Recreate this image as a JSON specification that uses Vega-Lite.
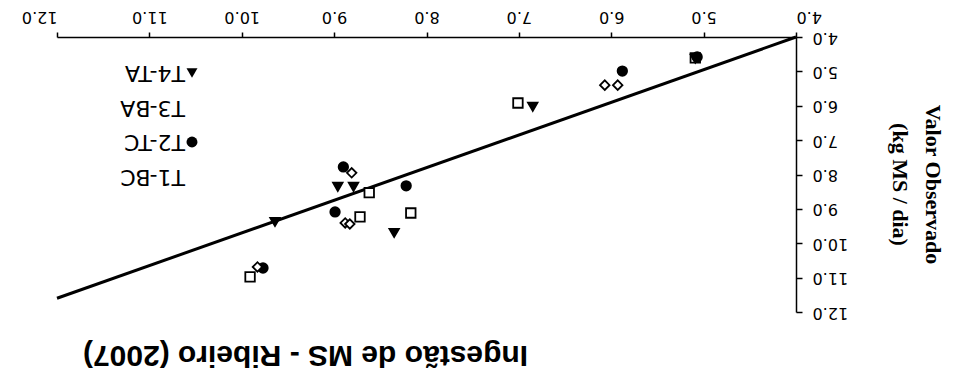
{
  "$schema": "https://vega.github.io/schema/vega-lite/v6.json",
  "width": 739,
  "height": 275,
  "autosize": {"type": "none"},
  "padding": {"left": 57, "top": 37, "right": 159, "bottom": 69},
  "background": "white",
  "config": {
    "view": {"stroke": null},
    "axis": {"grid": false, "domainColor": "black", "tickColor": "black", "labelColor": "black", "titleColor": "black", "domainWidth": 1.5, "tickWidth": 1.5, "labelOverlap": false}
  },
  "title": {
    "text": "Ingestão de MS - Ribeiro (2007)",
    "orient": "bottom",
    "anchor": "middle",
    "frame": "group",
    "angle": 180,
    "baseline": "bottom",
    "dx": 121,
    "offset": 20,
    "font": "Liberation Sans",
    "fontSize": 30,
    "fontWeight": "bold",
    "color": "black"
  },
  "datasets": {
    "linha": [
      {"x": 4.0, "y": 4.0},
      {"x": 12.0, "y": 11.6}
    ],
    "pontos": [
      {"trat": "T1-BC", "x": 5.09, "y": 4.61},
      {"trat": "T1-BC", "x": 7.01, "y": 5.92},
      {"trat": "T1-BC", "x": 8.62, "y": 8.53},
      {"trat": "T1-BC", "x": 8.72, "y": 9.23},
      {"trat": "T1-BC", "x": 8.17, "y": 9.12},
      {"trat": "T1-BC", "x": 9.91, "y": 10.98},
      {"trat": "T2-TC", "x": 5.07, "y": 4.58},
      {"trat": "T2-TC", "x": 5.88, "y": 4.99},
      {"trat": "T2-TC", "x": 8.90, "y": 7.78},
      {"trat": "T2-TC", "x": 8.22, "y": 8.33},
      {"trat": "T2-TC", "x": 8.99, "y": 9.09},
      {"trat": "T2-TC", "x": 9.77, "y": 10.72},
      {"trat": "T3-BA", "x": 6.07, "y": 5.40},
      {"trat": "T3-BA", "x": 5.93, "y": 5.40},
      {"trat": "T3-BA", "x": 8.81, "y": 7.95},
      {"trat": "T3-BA", "x": 8.88, "y": 9.41},
      {"trat": "T3-BA", "x": 8.83, "y": 9.44},
      {"trat": "T3-BA", "x": 9.83, "y": 10.69},
      {"trat": "T4-TA", "x": 5.09, "y": 4.63},
      {"trat": "T4-TA", "x": 6.85, "y": 6.03},
      {"trat": "T4-TA", "x": 8.96, "y": 8.36},
      {"trat": "T4-TA", "x": 8.79, "y": 8.36},
      {"trat": "T4-TA", "x": 8.35, "y": 9.70},
      {"trat": "T4-TA", "x": 9.64, "y": 9.38}
    ]
  },
  "encoding": {
    "x": {"field": "x", "type": "quantitative", "scale": {"domain": [4, 12], "reverse": true, "nice": false, "zero": false},
          "axis": {"orient": "top", "title": null, "values": [4, 5, 6, 7, 8, 9, 10, 11, 12], "format": ".1f", "labelAngle": 180, "labelOverlap": false, "labelFont": "DejaVu Sans", "labelFontSize": 16, "tickSize": 5, "labelPadding": 8}},
    "y": {"field": "y", "type": "quantitative", "scale": {"domain": [4, 12], "reverse": true, "nice": false, "zero": false},
          "axis": {"orient": "right", "title": ["Valor Observado", "(kg MS / dia)"], "titleFont": "Liberation Serif", "titleFontSize": 22, "titleFontWeight": "bold", "titleAngle": 90, "titlePadding": 40, "titleLineHeight": 33, "titleY": 147, "values": [4, 5, 6, 7, 8, 9, 10, 11, 12], "format": ".1f", "labelAngle": 180, "labelAlign": "right", "labelBaseline": "middle", "labelOverlap": false, "labelSeparation": 0, "labelFont": "DejaVu Sans", "labelFontSize": 16, "tickSize": 6, "labelPadding": 10}}
  },
  "layer": [
    {
      "data": {"name": "linha"},
      "mark": {"type": "line", "color": "black", "strokeWidth": 3}
    },
    {
      "data": {"name": "pontos"},
      "mark": {"type": "point", "filled": true, "size": 90, "stroke": "black", "strokeWidth": 1.8, "opacity": 1},
      "encoding": {
        "shape": {"field": "trat", "type": "nominal",
                  "scale": {"domain": ["T4-TA", "T3-BA", "T2-TC", "T1-BC"], "range": ["triangle-down", "diamond", "circle", "square"]},
                  "legend": {"orient": "none", "legendX": 124, "legendY": 25, "title": null, "padding": 0, "labelFont": "DejaVu Sans", "labelFontSize": 22, "labelColor": "black", "labelOffset": 6, "symbolSize": 120, "symbolStrokeColor": "black", "symbolStrokeWidth": 1.8, "rowPadding": 11.5,
                             "encoding": {"labels": {"angle": {"value": 180}, "dx": {"value": 24}}}}},
        "fill": {"field": "trat", "type": "nominal",
                 "scale": {"domain": ["T4-TA", "T3-BA", "T2-TC", "T1-BC"], "range": ["black", "white", "black", "white"]},
                 "legend": {"orient": "none", "legendX": 124, "legendY": 25, "title": null, "padding": 0, "labelFont": "DejaVu Sans", "labelFontSize": 22, "labelColor": "black", "labelOffset": 6, "symbolSize": 120, "symbolStrokeColor": "black", "symbolStrokeWidth": 1.8, "rowPadding": 11.5,
                             "encoding": {"labels": {"angle": {"value": 180}, "dx": {"value": 24}}}}}
      }
    }
  ]
}
